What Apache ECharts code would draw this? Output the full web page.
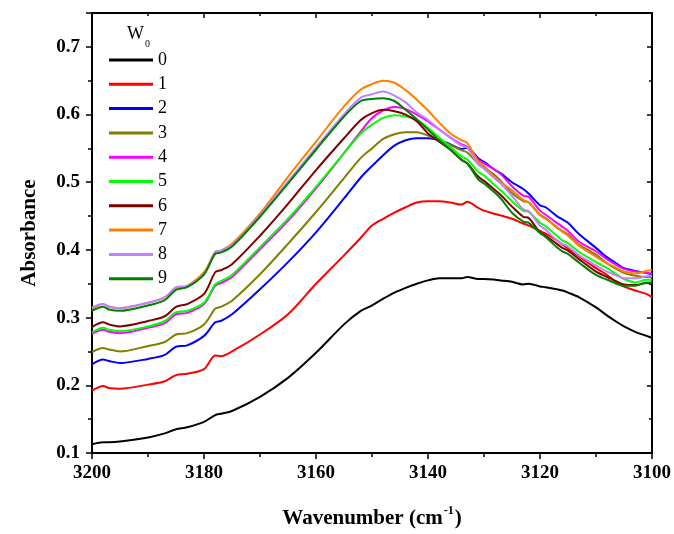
<!DOCTYPE html>
<html>
<head>
<meta charset="utf-8">
<script src="https://cdn.jsdelivr.net/npm/echarts@6/dist/echarts.min.js"></script>
<style>html,body{margin:0;padding:0;background:#fff;}#c{width:674px;height:534px;}</style>
</head>
<body>
<div id="c"></div>
<script>
const wavenumbers = [3200,3198,3197,3195,3190,3187,3185,3183,3180,3178,3177,3175,3170,3165,3160,3155,3152,3150,3148,3146,3144,3142,3140,3138,3136,3134,3133,3131,3130,3128,3127,3125,3123,3122,3120,3119,3117,3116,3115,3113,3110,3108,3106,3105,3103,3101,3100];

const w0 = [.113,.116,.116,.117, .123,.129,.135,.138, .146,.156,.158,.162, .183,.211,.248,.290, .310,.318,.328,.337, .344,.350,.355,.358, .358,.358,.360,.357, .357,.356,.355,.353, .349,.350,.346,.345, .342,.340,.337,.330, .315,.303,.292,.287, .279,.273,.270];
const w1 = [.192,.199,.196,.195, .201,.206,.215,.217, .224,.244,.243,.250, .275,.305,.350,.392, .418,.436,.446,.455, .463,.470,.472,.472, .470,.467,.471,.462, .458,.453,.451,.446, .439,.436,.428,.424, .414,.408,.402,.390, .373,.363,.350,.346, .340,.335,.330];
const w2 = [.231,.238,.236,.233, .239,.245,.257,.259, .273,.293,.295,.305, .342,.382,.426,.476, .507,.524,.540,.554, .562,.565,.565,.562, .556,.549,.551,.535, .530,.518,.513,.500, .490,.483,.466,.463, .450,.445,.440,.423, .403,.389,.378,.373, .369,.366,.364];
const w3 = [.249,.255,.253,.250, .258,.264,.275,.277, .290,.313,.316,.325, .364,.409,.456,.506, .536,.550,.564,.571, .574,.574,.569,.562, .555,.547,.544,.527, .522,.510,.502,.484, .472,.470,.452,.447, .433,.428,.423,.408, .393,.380,.370,.366, .362,.360,.360];
const w4 = [.276,.282,.279,.277, .285,.292,.305,.307, .320,.347,.351,.360, .401,.443,.491,.543, .575,.595,.606,.611, .608,.600,.590,.578, .566,.556,.552,.533, .528,.518,.512,.494, .480,.478,.458,.452, .440,.434,.428,.412, .398,.386,.376,.372, .368,.366,.365];
const w5 = [.278,.285,.282,.280, .287,.295,.308,.310, .322,.349,.354,.363, .404,.446,.493,.543, .572,.585,.595,.599, .597,.592,.580,.566, .552,.538,.534,.515, .510,.495,.488,.472, .458,.456,.440,.435, .421,.414,.410,.397, .382,.373,.362,.357, .352,.356,.356];
const w6 = [.286,.293,.290,.287, .295,.302,.316,.320, .335,.367,.370,.379, .421,.468,.518,.565, .592,.602,.607,.605, .600,.590,.572,.560, .548,.533,.528,.508, .502,.488,.481,.464, .449,.447,.426,.421, .409,.403,.399,.386, .368,.360,.352,.349, .348,.351,.350];
const w7 = [.313,.320,.316,.314, .322,.330,.343,.347, .367,.397,.399,.409, .454,.508,.560,.612, .637,.645,.650,.647, .636,.622,.606,.588, .572,.562,.558,.530, .524,.506,.500,.488, .474,.470,.451,.446, .434,.427,.421,.406, .390,.380,.372,.368, .365,.369,.370];
const w8 = [.315,.320,.316,.314, .322,.330,.345,.347, .364,.397,.399,.407, .451,.501,.551,.600, .625,.630,.634,.628, .618,.603,.592,.578, .566,.554,.551,.526, .520,.505,.498,.480, .460,.457,.436,.430, .414,.409,.405,.392, .377,.368,.361,.358, .358,.361,.362];
const w9 = [.310,.316,.312,.310, .318,.326,.341,.345, .364,.394,.396,.405, .449,.498,.548,.597, .620,.623,.624,.620, .607,.593,.578,.562, .548,.533,.528,.504, .498,.484,.476,.455, .442,.440,.425,.419, .404,.398,.394,.381, .363,.356,.349,.347, .347,.352,.352];

const seriesNames = ['0','1','2','3','4','5','6','7','8','9'];
const seriesValues = [w0,w1,w2,w3,w4,w5,w6,w7,w8,w9];
const seriesColors = ['#000000','#ff0000','#0000ff','#808000','#ff00ff','#00ff00','#800000','#ff8000','#c080ff','#008000'];

const FONT = "'Liberation Serif','Times New Roman',serif";
const chart = echarts.init(document.getElementById('c'), null, {renderer:'canvas'});

const series = seriesNames.map((n,i)=>({
  name:n, type:'line', xAxisIndex:0, yAxisIndex:0,
  data: wavenumbers.map((x,j)=>[x, seriesValues[i][j]]),
  showSymbol:false, symbol:'none', smooth:0.3,
  lineStyle:{color:seriesColors[i], width:2},
  itemStyle:{color:seriesColors[i]},
  emphasis:{disabled:true}, animation:false
}));

const axisCommon = {
  axisLine:{show:true, onZero:false, lineStyle:{color:'#000', width:2}},
  splitLine:{show:false}
};

chart.setOption({
  animation:false,
  backgroundColor:'#fff',
  grid:{left:92, right:22, top:13, bottom:76},
  title:{
    text:'{a|W}{b|0}', left:122, top:20,
    textStyle:{fontWeight:'normal', rich:{
      a:{fontFamily:FONT, fontSize:18, fontWeight:'normal', color:'#000', verticalAlign:'bottom'},
      b:{fontFamily:FONT, fontSize:10, fontWeight:'normal', color:'#000', verticalAlign:'bottom', padding:[0,0,-6,1]}
    }}
  },
  legend:{
    orient:'vertical', left:109, top:51, padding:0,
    icon:'rect', itemWidth:44, itemHeight:3, itemGap:6.3,
    textStyle:{fontFamily:FONT, fontSize:18, color:'#000', lineHeight:18},
    data:seriesNames
  },
  xAxis:[
    Object.assign({}, axisCommon, {
      type:'value', min:3100, max:3200, interval:20, inverse:true, position:'bottom',
      name:'{a|Wavenumber (cm}{b|-1}{a|)}', nameLocation:'middle', nameGap:52,
      nameTextStyle:{rich:{
        a:{fontFamily:FONT, fontSize:21, fontWeight:'bold', color:'#000', verticalAlign:'bottom'},
        b:{fontFamily:FONT, fontSize:12, fontWeight:'bold', color:'#000', verticalAlign:'top', padding:[0,1,12,1]}
      }},
      axisTick:{show:true, inside:false, length:6, lineStyle:{width:1.5,color:'#000'}},
      minorTick:{show:true, splitNumber:2, length:4, lineStyle:{width:1.5,color:'#000'}},
      axisLabel:{fontFamily:FONT, fontSize:19, fontWeight:'bold', color:'#000', margin:11,
        formatter:v=>String(v)}
    }),
    Object.assign({}, axisCommon, {
      type:'value', min:3100, max:3200, interval:20, inverse:true, position:'top',
      axisTick:{show:true, inside:true, length:5, lineStyle:{width:1.5,color:'#000'}},
      minorTick:{show:true, splitNumber:2, length:3, lineStyle:{width:1.5,color:'#000'}},
      axisLabel:{show:false}
    })
  ],
  yAxis:[
    Object.assign({}, axisCommon, {
      type:'value', min:0.1, max:0.75, interval:0.1, position:'left',
      name:'Absorbance', nameLocation:'middle', nameGap:52,
      nameTextStyle:{fontFamily:FONT, fontSize:21, fontWeight:'bold', color:'#000'},
      axisTick:{show:true, inside:false, length:6, lineStyle:{width:1.5,color:'#000'}},
      minorTick:{show:true, splitNumber:2, length:4, lineStyle:{width:1.5,color:'#000'}},
      axisLabel:{fontFamily:FONT, fontSize:19, fontWeight:'bold', color:'#000', margin:12,
        formatter:v=> v>0.71 ? '' : v.toFixed(1)}
    }),
    Object.assign({}, axisCommon, {
      type:'value', min:0.1, max:0.75, interval:0.1, position:'right',
      axisTick:{show:true, inside:true, length:5, lineStyle:{width:1.5,color:'#000'}},
      minorTick:{show:true, splitNumber:2, length:3, lineStyle:{width:1.5,color:'#000'}},
      axisLabel:{show:false}
    })
  ],
  series: series
});
</script>
</body>
</html>
